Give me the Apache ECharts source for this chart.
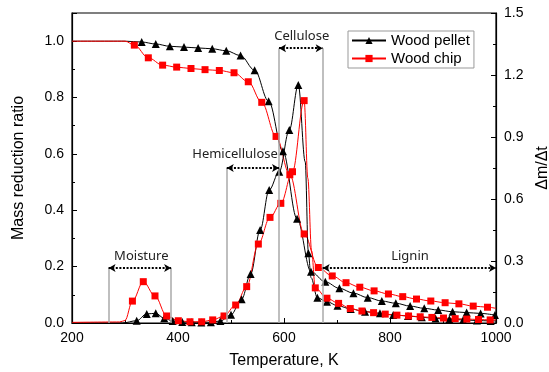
<!DOCTYPE html>
<html><head><meta charset="utf-8">
<script src="https://cdn.jsdelivr.net/npm/echarts@6/dist/echarts.min.js"></script>
<style>html,body{margin:0;padding:0;background:#fff}#c{width:549px;height:372px}</style>
</head><body><div id="c"></div>
<script>
// ---- Data ----
const xTicks = [200, 400, 600, 800, 1000];
const leftTicks = [0.0, 0.2, 0.4, 0.6, 0.8, 1.0];
const rightTicks = [0.0, 0.3, 0.6, 0.9, 1.2, 1.5];

// TG, wood pellet (left axis)
const pelletTgT = [200, 300, 331.5, 358, 384.7, 411.3, 438, 464.6, 491, 518, 544.6, 571, 598, 624.6, 651, 678, 704.6, 731, 758, 784.6, 811, 838, 864.6, 891, 918, 944.6, 971, 998];
const pelletTgV = [1.0, 1.0, 0.997, 0.99, 0.982, 0.979, 0.976, 0.973, 0.966, 0.949, 0.897, 0.787, 0.609, 0.37, 0.182, 0.146, 0.123, 0.106, 0.09, 0.078, 0.07, 0.06, 0.052, 0.046, 0.04, 0.037, 0.034, 0.028];
const pelletTgNoMark = [200, 300];

// TG, wood chip (left axis)
const chipTgT = [200, 300, 317.6, 344, 371, 397.5, 424.5, 451, 478, 505.7, 532.6, 558, 585, 611, 638, 664.7, 691, 717, 743, 770, 797, 824, 850, 877, 904, 930, 957, 984, 1000];
const chipTgV = [1.0, 1.0, 0.986, 0.941, 0.915, 0.908, 0.903, 0.899, 0.896, 0.888, 0.856, 0.783, 0.662, 0.526, 0.316, 0.197, 0.167, 0.143, 0.127, 0.114, 0.103, 0.0935, 0.085, 0.078, 0.072, 0.068, 0.06, 0.056, 0.052];
const chipTgNoMark = [200, 300, 1000];

// DTG, wood pellet (right axis)
const pelletDtgT = [200, 295, 322, 341, 358, 374, 390, 408, 426, 444, 462, 480, 500, 520, 537, 555, 572, 591, 610, 627, 640, 646, 651, 663, 681, 701, 726, 753, 781, 806, 834, 860, 886, 912, 938, 964, 990, 1000];
const pelletDtgV = [0, 0, 0.011, 0.044, 0.047, 0.023, 0.01, 0.005, 0.004, 0.003, 0.004, 0.01, 0.04, 0.115, 0.237, 0.45, 0.644, 0.732, 0.934, 1.152, 0.78, 0.337, 0.22, 0.122, 0.103, 0.084, 0.068, 0.055, 0.047, 0.039, 0.034, 0.028, 0.022, 0.018, 0.015, 0.012, 0.01, 0.01];
const pelletDtgNoMark = [200, 295, 640, 651, 1000];

// DTG, wood chip (right axis)
const chipDtgT = [200, 290, 300, 314, 334.5, 356.6, 378.6, 400.6, 422.6, 444.7, 465.5, 486.8, 508.8, 529.6, 551.6, 573.6, 594, 616, 638, 645, 652, 659, 681, 703, 725, 747, 769, 791, 813, 835, 857, 879, 901, 923, 945, 967, 989, 1000];
const chipDtgV = [0.003, 0.005, 0.012, 0.106, 0.2, 0.131, 0.034, 0.011, 0.006, 0.006, 0.015, 0.034, 0.087, 0.176, 0.382, 0.511, 0.579, 0.732, 1.076, 0.7, 0.35, 0.17, 0.12, 0.095, 0.07, 0.058, 0.05, 0.043, 0.038, 0.034, 0.03, 0.027, 0.024, 0.021, 0.019, 0.017, 0.015, 0.015];
const chipDtgNoMark = [200, 290, 300, 645, 652, 1000];

// Region annotations (temperature bounds, level on left axis)
const regionNames = ['Moisture', 'Hemicellulose', 'Cellulose', 'Lignin'];
const regionStart = [269, 492, 590.6, 673];
const regionEnd = [387, 590.6, 673, 1000];
const regionLevel = [0.195, 0.55, 0.975, 0.195];
const labelPos = [[330.8, 0.236], [507.6, 0.597], [633.4, 1.018], [837.7, 0.238]];
const boundaryT = [269, 387, 492, 590.6, 673];
const boundaryTop = [0.195, 0.195, 0.55, 0.975, 0.975];

// ---- Build ----
function build(T, V, noMark) {
  return T.map((t, i) => noMark.includes(t) ? {value: [t, V[i]], symbol: 'none'} : {value: [t, V[i]]});
}
const font = 'Liberation Sans, Arial, sans-serif';

const arrows = regionNames.map((n, i) => [{coord: [regionStart[i], regionLevel[i]]}, {coord: [regionEnd[i], regionLevel[i]]}]);
const vLines = boundaryT.map((t, i) => [{coord: [t, 0]}, {coord: [t, boundaryTop[i]]}]);

const chart = echarts.init(document.getElementById('c'));
const option = {
  animation: false,
  backgroundColor: '#fff',
  grid: {left: 72, right: 53, top: 13, bottom: 49, show: true, borderColor: '#000', borderWidth: 1.2,
    backgroundColor: 'transparent', containLabel: false, outerBoundsMode: 'none'},
  legend: {
    data: ['Wood pellet', 'Wood chip'],
    orient: 'vertical', left: 348, top: 31,
    itemWidth: 34, itemHeight: 9, itemGap: 3,
    padding: [2, 4, 2, 3],
    borderColor: '#999', borderWidth: 1,
    textStyle: {fontFamily: font, fontSize: 15, color: '#000'}
  },
  xAxis: {
    type: 'value', min: 200, max: 1000, interval: 200,
    name: 'Temperature, K', nameLocation: 'middle', nameGap: 30,
    nameTextStyle: {fontFamily: font, fontSize: 16, color: '#000'},
    axisLine: {lineStyle: {color: '#000', width: 1.2}},
    axisTick: {inside: true, length: 5, lineStyle: {color: '#000'}},
    minorTick: {show: true, splitNumber: 2, length: 3, lineStyle: {color: '#000'}},
    splitLine: {show: false},
    axisLabel: {fontFamily: font, fontSize: 14, color: '#000', margin: 8,
      formatter: v => xTicks.includes(v) ? String(v) : ''}
  },
  yAxis: [{
    type: 'value', min: 0, max: 1.1, interval: 0.2, position: 'left',
    name: 'Mass reduction ratio', nameLocation: 'middle', nameGap: 45,
    nameTextStyle: {fontFamily: font, fontSize: 16, color: '#000'},
    axisLine: {show: true, lineStyle: {color: '#000', width: 1.2}},
    axisTick: {show: true, inside: true, length: 5, lineStyle: {color: '#000'}},
    minorTick: {show: true, splitNumber: 2, length: 3, lineStyle: {color: '#000'}},
    splitLine: {show: false},
    axisLabel: {fontFamily: font, fontSize: 14, color: '#000', showMaxLabel: false,
      formatter: v => leftTicks.some(t => Math.abs(t - v) < 1e-6) ? v.toFixed(1) : ''}
  }, {
    type: 'value', min: 0, max: 1.5, interval: 0.3, position: 'right',
    name: 'Δm/Δt', nameLocation: 'middle', nameGap: 37,
    nameTextStyle: {fontFamily: font, fontSize: 16, color: '#000'},
    axisLine: {show: true, lineStyle: {color: '#000', width: 1.2}},
    axisTick: {show: true, inside: true, length: 5, lineStyle: {color: '#000'}},
    minorTick: {show: true, splitNumber: 2, length: 3, lineStyle: {color: '#000'}},
    splitLine: {show: false},
    axisLabel: {fontFamily: font, fontSize: 14, color: '#000',
      formatter: v => rightTicks.some(t => Math.abs(t - v) < 1e-6) ? v.toFixed(1) : ''}
  }],
  series: [
    {
      name: 'annot', type: 'line', data: [], yAxisIndex: 0, silent: true,
      markLine: {
        silent: true, animation: false,
        symbol: ['none', 'none'],
        label: {show: false},
        lineStyle: {color: '#aaa', width: 1.5, type: 'solid'},
        data: vLines
      }
    },
    {
      name: 'annot2', type: 'line', data: [], yAxisIndex: 0, silent: true,
      markLine: {
        silent: true, animation: false,
        symbol: ['arrow', 'arrow'], symbolSize: [6, 7],
        label: {show: false},
        lineStyle: {color: '#000', width: 1.8, type: [2, 1.6]},
        data: arrows
      },
      markPoint: {
        silent: true, animation: false,
        symbol: 'rect', symbolSize: 0,
        label: {show: true, position: 'inside', fontFamily: 'Noto Sans, Open Sans, sans-serif', fontSize: 13, color: '#222',
          formatter: p => p.name},
        data: regionNames.map((n, i) => ({name: n, coord: labelPos[i]}))
      }
    },
    {
      name: 'Wood pellet', type: 'line', yAxisIndex: 0,
      data: build(pelletTgT, pelletTgV, pelletTgNoMark),
      smooth: 0.35, smoothMonotone: 'x',
      symbol: 'triangle', symbolSize: 8,
      itemStyle: {color: '#000'}, lineStyle: {color: '#000', width: 1}, z: 3
    },
    {
      name: 'Wood chip', type: 'line', yAxisIndex: 0,
      data: build(chipTgT, chipTgV, chipTgNoMark),
      smooth: 0.35, smoothMonotone: 'x',
      symbol: 'rect', symbolSize: 7,
      itemStyle: {color: '#ff0000'}, lineStyle: {color: '#ff0000', width: 1}, z: 3
    },
    {
      name: 'Wood pellet', type: 'line', yAxisIndex: 1,
      data: build(pelletDtgT, pelletDtgV, pelletDtgNoMark),
      smooth: 0.35, smoothMonotone: 'x',
      symbol: 'triangle', symbolSize: 8,
      itemStyle: {color: '#000'}, lineStyle: {color: '#000', width: 1}, z: 3
    },
    {
      name: 'Wood chip', type: 'line', yAxisIndex: 1,
      data: build(chipDtgT, chipDtgV, chipDtgNoMark),
      smooth: 0.35, smoothMonotone: 'x',
      symbol: 'rect', symbolSize: 7,
      itemStyle: {color: '#ff0000'}, lineStyle: {color: '#ff0000', width: 1}, z: 3
    }
  ]
};
chart.setOption(option);
</script>
</body></html>
